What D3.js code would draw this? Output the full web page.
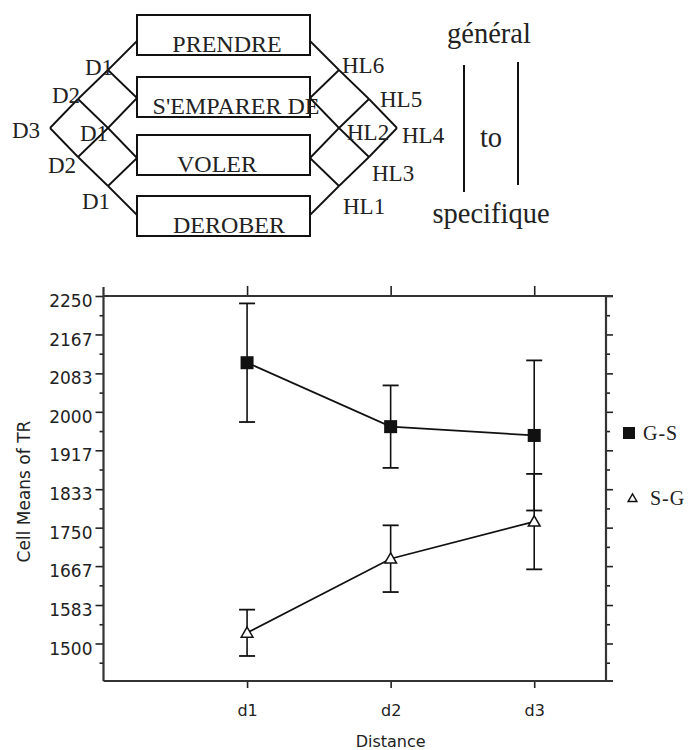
<!DOCTYPE html>
<html>
<head>
<meta charset="utf-8">
<script src="https://cdn.jsdelivr.net/npm/d3@7"></script>
<style>
  body { margin: 0; background: #fff; }
  svg { display: block; }
</style>
</head>
<body>
<svg id="chart" width="690" height="750"></svg>
<script>
// chart data
var categories = ["d1", "d2", "d3"];
var seriesNames = ["G-S", "S-G"];
var gsMeans = [2106, 1968, 1949];
var gsErrors = [128, 89, 162];
var sgMeans = [1523, 1683, 1763];
var sgErrors = [50, 72, 103];
var yTickLabels = ["1500", "1583", "1667", "1750", "1833", "1917", "2000", "2083", "2167", "2250"];
var yTitle = "Cell Means of TR";
var xTitle = "Distance";

// labels of the diagram above the chart
var boxLabels = ["PRENDRE", "S'EMPARER DE", "VOLER", "DEROBER"];
var leftNodeLabels = ["D1", "D2", "D3", "D1", "D2", "D1"];
var rightNodeLabels = ["HL6", "HL5", "HL4", "HL2", "HL3", "HL1"];
var scaleWords = ["général", "to", "specifique"];

var svg = d3.select("#chart");
var serif = "'Liberation Serif', 'DejaVu Serif', serif";
var sans = "'DejaVu Sans', Verdana, sans-serif";

/*
 * Diagram
 */
var diag = svg.append("g").attr("class", "diagram");

var boxX = 137, boxW = 173, boxH = 40;
var boxTops = [15, 77, 135, 196];

diag.selectAll("rect.box").data(boxLabels).enter()
    .append("rect").attr("class", "box")
    .attr("x", boxX).attr("y", function(d, i) { return boxTops[i]; })
    .attr("width", boxW).attr("height", boxH)
    .attr("fill", "none").attr("stroke", "#111").attr("stroke-width", 2);

var boxTextX = [227, 236, 217, 229];
diag.selectAll("text.box").data(boxLabels).enter()
    .append("text").attr("class", "box")
    .attr("x", function(d, i) { return boxTextX[i]; })
    .attr("y", function(d, i) { return boxTops[i] + boxH - 3.5; })
    .attr("text-anchor", "middle")
    .style("font-family", serif).style("font-size", "24px").style("fill", "#222")
    .text(function(d) { return d; });

// left-hand network: nodes and the box anchors, the right side is its mirror
var nodes = {
    D3: [50, 128], D2u: [78, 99], D2l: [78, 157],
    D1t: [108, 70], D1m: [108, 128], D1b: [108, 186],
    P: [137, 41], S: [137, 98], V: [137, 158], R: [137, 215]
};
var edges = [
    ["D3", "D2u"], ["D2u", "D1t"], ["D1t", "P"],
    ["D3", "D2l"], ["D2l", "D1b"], ["D1b", "R"],
    ["D1t", "S"], ["D2u", "D1m"], ["D1m", "V"],
    ["D2l", "D1m"], ["D1m", "S"], ["D1b", "V"]
];
var mirror = boxX * 2 + boxW;

[false, true].forEach(function(flip) {
    diag.selectAll("line.e" + flip).data(edges).enter()
        .append("line").attr("class", "e" + flip)
        .attr("x1", function(d) { var p = nodes[d[0]][0]; return flip ? mirror - p : p; })
        .attr("y1", function(d) { return nodes[d[0]][1]; })
        .attr("x2", function(d) { var p = nodes[d[1]][0]; return flip ? mirror - p : p; })
        .attr("y2", function(d) { return nodes[d[1]][1]; })
        .attr("stroke", "#111").attr("stroke-width", 1.8);
});

var leftLabelPos = [[85, 75], [52, 103], [12, 138], [80, 141], [48, 173], [82, 209]];
diag.selectAll("text.dl").data(leftNodeLabels).enter()
    .append("text").attr("class", "dl")
    .attr("x", function(d, i) { return leftLabelPos[i][0]; })
    .attr("y", function(d, i) { return leftLabelPos[i][1]; })
    .style("font-family", serif).style("font-size", "23px").style("fill", "#222")
    .text(function(d) { return d; });

var rightLabelPos = [[342, 73], [380, 107], [402, 143], [347, 140], [372, 181], [343, 214]];
diag.selectAll("text.hl").data(rightNodeLabels).enter()
    .append("text").attr("class", "hl")
    .attr("x", function(d, i) { return rightLabelPos[i][0]; })
    .attr("y", function(d, i) { return rightLabelPos[i][1]; })
    .style("font-family", serif).style("font-size", "23px").style("fill", "#222")
    .text(function(d) { return d; });

var wordPos = [[489, 43], [491, 147], [491, 223]];
diag.selectAll("text.w").data(scaleWords).enter()
    .append("text").attr("class", "w")
    .attr("x", function(d, i) { return wordPos[i][0]; })
    .attr("y", function(d, i) { return wordPos[i][1]; })
    .attr("text-anchor", "middle")
    .style("font-family", serif).style("font-size", "28.5px").style("fill", "#222")
    .text(function(d) { return d; });

diag.append("line").attr("x1", 464).attr("x2", 464).attr("y1", 65).attr("y2", 192)
    .attr("stroke", "#111").attr("stroke-width", 2);
diag.append("line").attr("x1", 518).attr("x2", 518).attr("y1", 62).attr("y2", 185)
    .attr("stroke", "#111").attr("stroke-width", 2);

/*
 * Chart
 */
var x = d3.scaleLinear().domain([0, 3.5]).range([103.5, 606]);
var y = d3.scaleLinear().domain([1419, 2250]).range([681, 296]);

var yTicks = yTickLabels.map(Number);
var yMinor = yTicks.map(function(v, i) { return v - (yTicks[1] - yTicks[0]) / 2; });
var xTicks = categories.map(function(d, i) { return i + 1; });

function styleAxis(g) {
    g.select(".domain").remove();
    g.selectAll(".tick line").attr("stroke", "#222").attr("stroke-width", 1.6);
    g.selectAll("text").style("font-family", sans).style("fill", "#222");
}

// left axis, labels + minor ticks
svg.append("g").attr("transform", "translate(" + x.range()[0] + ",0)")
    .call(d3.axisLeft(y).tickValues(yTicks).tickSize(8).tickPadding(3)
          .tickFormat(function(d, i) { return yTickLabels[i]; }))
    .call(styleAxis)
    .call(function(g) { g.selectAll("text").style("font-size", "17px").attr("dy", "0.62em"); });
svg.append("g").attr("transform", "translate(" + x.range()[0] + ",0)")
    .call(d3.axisLeft(y).tickValues(yMinor).tickSize(4).tickFormat(""))
    .call(styleAxis);

// right axis, ticks only
svg.append("g").attr("transform", "translate(" + x.range()[1] + ",0)")
    .call(d3.axisRight(y).tickValues(yTicks).tickSize(7).tickFormat(""))
    .call(styleAxis);
svg.append("g").attr("transform", "translate(" + x.range()[1] + ",0)")
    .call(d3.axisRight(y).tickValues(yMinor).tickSize(4).tickFormat(""))
    .call(styleAxis);

// top and bottom axes
svg.append("g").attr("transform", "translate(0," + y.range()[1] + ")")
    .call(d3.axisTop(x).tickValues(xTicks).tickSize(10).tickFormat(""))
    .call(styleAxis);
svg.append("g").attr("transform", "translate(0," + y.range()[0] + ")")
    .call(d3.axisBottom(x).tickValues(xTicks).tickSize(7).tickPadding(17)
          .tickFormat(function(d, i) { return categories[i]; }))
    .call(styleAxis)
    .call(function(g) { g.selectAll("text").style("font-size", "16px"); });

// frame
var x0 = x.range()[0], x1 = x.range()[1], yT = y.range()[1], yB = y.range()[0];
var frame = [
    [x0, yT, x1 + 7, yT], [x0, yB, x1 + 7, yB],
    [x0, yT - 9, x0, yB], [x1, yT, x1, yB]
];
svg.selectAll("line.frame").data(frame).enter()
    .append("line").attr("class", "frame")
    .attr("x1", function(d) { return d[0]; }).attr("y1", function(d) { return d[1]; })
    .attr("x2", function(d) { return d[2]; }).attr("y2", function(d) { return d[3]; })
    .attr("stroke", "#333").attr("stroke-width", 2.2);

// titles
svg.append("text")
    .attr("transform", "translate(30," + (y(1828)) + ") rotate(-90)")
    .attr("text-anchor", "middle")
    .style("font-family", sans).style("font-size", "17px").style("fill", "#222")
    .text(yTitle);
svg.append("text")
    .attr("x", x(2)).attr("y", 747)
    .attr("text-anchor", "middle")
    .style("font-family", sans).style("font-size", "16px").style("fill", "#222")
    .text(xTitle);

// series
var series = [
    { name: seriesNames[0], means: gsMeans, errors: gsErrors, shape: "square" },
    { name: seriesNames[1], means: sgMeans, errors: sgErrors, shape: "triangle" }
];

var plot = svg.append("g").attr("class", "plot");
var line = d3.line()
    .x(function(d, i) { return x(i + 1); })
    .y(function(d) { return y(d); });

series.forEach(function(s, k) {
    var g = plot.append("g").attr("class", "series s" + k);
    var pts = s.means.map(function(m, i) { return { i: i, m: m, e: s.errors[i] }; });

    // error bars
    g.selectAll("line.bar").data(pts).enter()
        .append("line").attr("class", "bar")
        .attr("x1", function(d) { return x(d.i + 1); }).attr("x2", function(d) { return x(d.i + 1); })
        .attr("y1", function(d) { return y(d.m + d.e); }).attr("y2", function(d) { return y(d.m - d.e); })
        .attr("stroke", "#111").attr("stroke-width", 1.6);
    [1, -1].forEach(function(sign) {
        g.selectAll("line.cap" + sign).data(pts).enter()
            .append("line").attr("class", "cap" + sign)
            .attr("x1", function(d) { return x(d.i + 1) - 8; }).attr("x2", function(d) { return x(d.i + 1) + 8; })
            .attr("y1", function(d) { return y(d.m + sign * d.e); }).attr("y2", function(d) { return y(d.m + sign * d.e); })
            .attr("stroke", "#111").attr("stroke-width", 1.8);
    });

    g.append("path").datum(s.means)
        .attr("d", line).attr("fill", "none")
        .attr("stroke", "#111").attr("stroke-width", 1.7);

    if (s.shape == "square") {
        g.selectAll("rect.mark").data(pts).enter()
            .append("rect").attr("class", "mark")
            .attr("x", function(d) { return x(d.i + 1) - 6.5; })
            .attr("y", function(d) { return y(d.m) - 6.5; })
            .attr("width", 13).attr("height", 13).attr("fill", "#111");
    } else {
        g.selectAll("path.mark").data(pts).enter()
            .append("path").attr("class", "mark")
            .attr("d", d3.symbol(d3.symbolTriangle, 60))
            .attr("transform", function(d) { return "translate(" + x(d.i + 1) + "," + (y(d.m) + 1) + ")"; })
            .attr("fill", "#fff").attr("stroke", "#111").attr("stroke-width", 1.5);
    }
});

// legend
var legend = svg.append("g").attr("class", "legend");
legend.append("rect").attr("x", 623).attr("y", 427).attr("width", 12).attr("height", 12).attr("fill", "#111");
legend.append("text").attr("x", 643).attr("y", 440)
    .style("font-family", serif).style("font-size", "20px").style("letter-spacing", "1px").style("fill", "#222")
    .text(seriesNames[0]);
legend.append("path").attr("d", d3.symbol(d3.symbolTriangle, 34))
    .attr("transform", "translate(632.5,499)")
    .attr("fill", "#fff").attr("stroke", "#111").attr("stroke-width", 1.4);
legend.append("text").attr("x", 650).attr("y", 505)
    .style("font-family", serif).style("font-size", "20px").style("letter-spacing", "1px").style("fill", "#222")
    .text(seriesNames[1]);
</script>
</body>
</html>
